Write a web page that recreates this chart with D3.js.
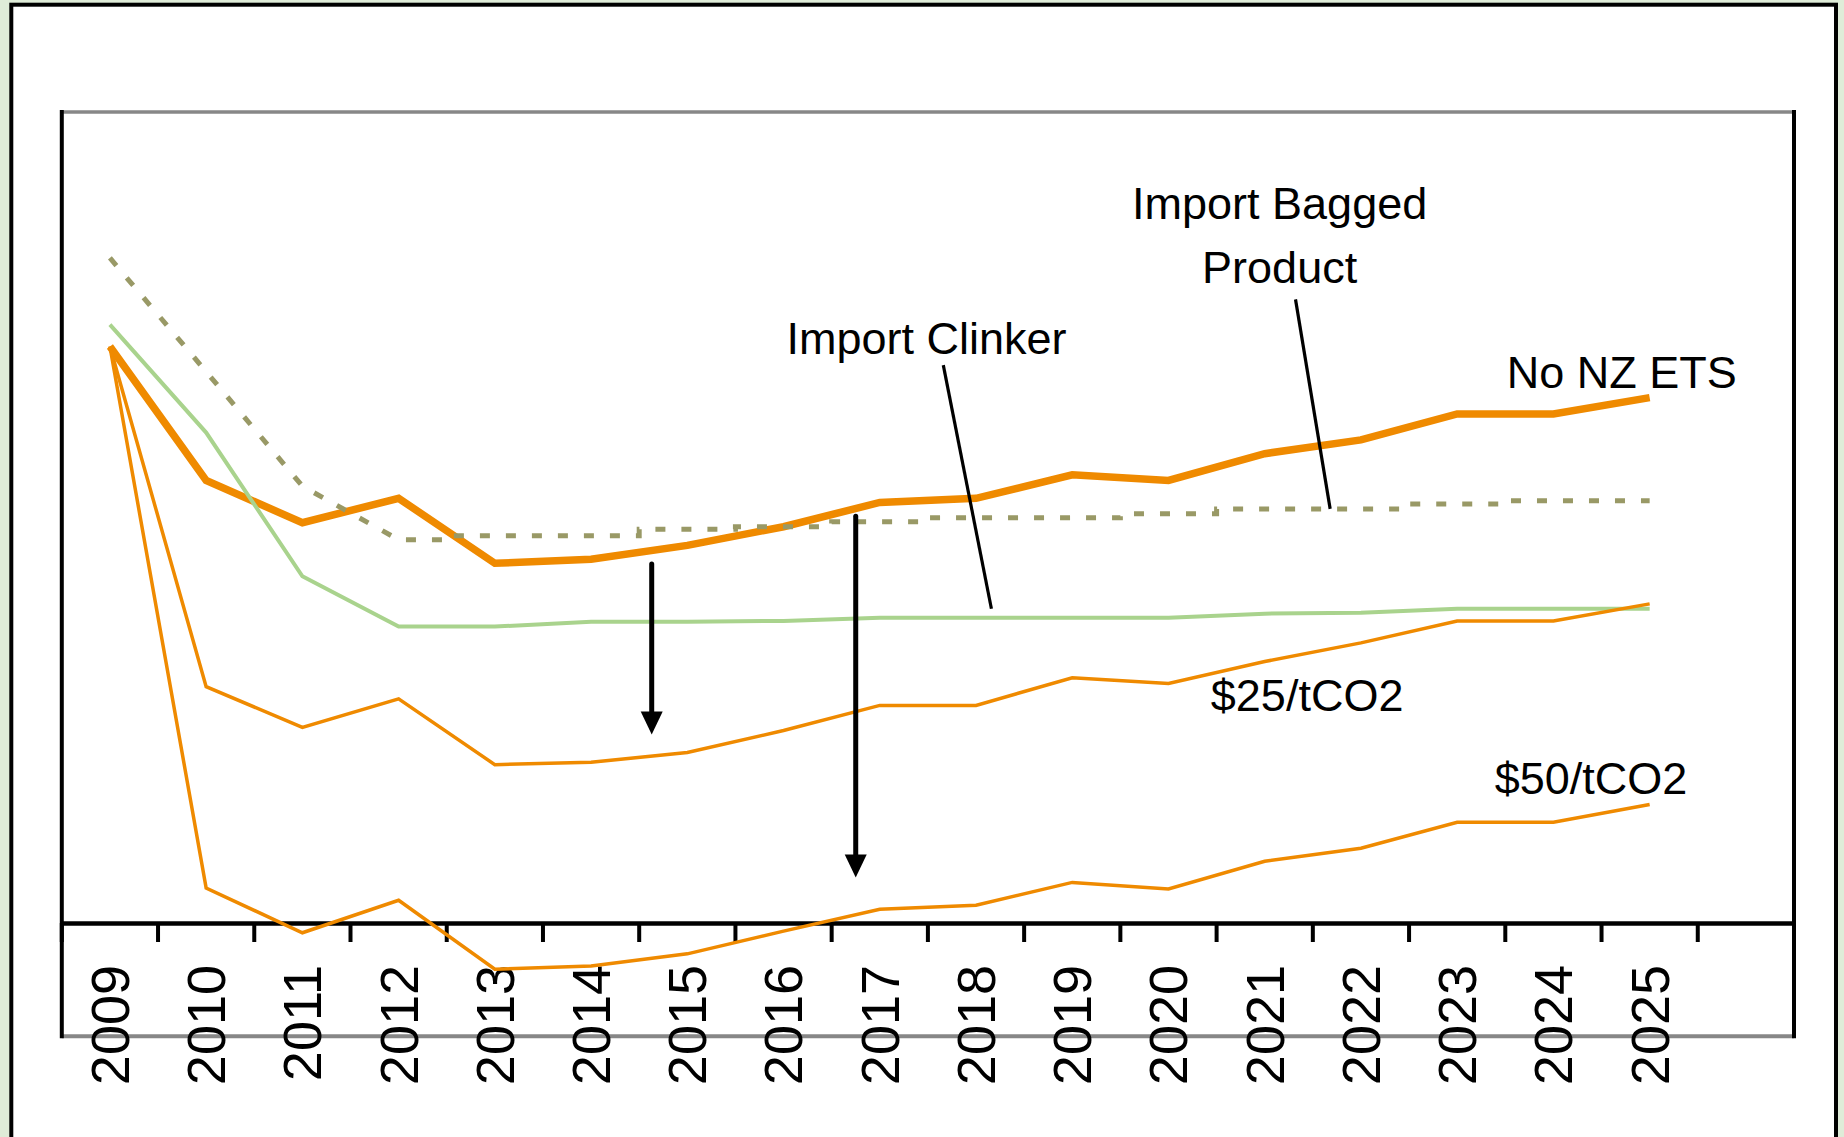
<!DOCTYPE html>
<html>
<head>
<meta charset="utf-8">
<script src="https://cdn.jsdelivr.net/npm/d3@7"></script>
<style>
  body { margin: 0; background: #dfecd8; }
  svg { display: block; font-family: "Liberation Sans", Arial, sans-serif; }
</style>
</head>
<body>
<svg width="1844" height="1137"></svg>
<script>
// values (no y labels in the original, so 0..100 is just chart height)
const years = ["2009","2010","2011","2012","2013","2014","2015","2016","2017",
               "2018","2019","2020","2021","2022","2023","2024","2025"];
const noEts    = [71.0, 54.5, 49.3, 52.3, 44.3, 44.8, 46.5, 48.8, 51.8, 52.3, 55.2, 54.5, 57.8, 59.5, 62.7, 62.7, 64.7];
const clinker  = [73.7, 60.4, 42.7, 36.5, 36.5, 37.1, 37.1, 37.2, 37.6, 37.6, 37.6, 37.6, 38.1, 38.2, 38.7, 38.7, 38.7];
const bagged   = [81.9, 67.9, 53.8, 47.2, 47.7, 47.7, 48.5, 48.8, 49.4, 49.9, 49.9, 50.4, 51.0, 51.0, 51.6, 52.0, 52.0];
const carbon25 = [71.0, 29.1, 24.1, 27.6, 19.5, 19.8, 21.0, 23.7, 26.8, 26.8, 30.2, 29.5, 32.2, 34.5, 37.2, 37.2, 39.3];
const carbon50 = [71.0, 4.3, -1.2, 2.8, -5.7, -5.3, -3.8, -1.0, 1.7, 2.2, 5.0, 4.2, 7.6, 9.2, 12.4, 12.4, 14.6];

const svg = d3.select('svg');
const width = +svg.attr('width');
const height = +svg.attr('height');
const plot = { left: 61.8, right: 1794, top: 112, axis: 923, bottom: 1036.3 };

const orange = '#ef8a00', green = '#a9d38d', olive = '#999966';

// one empty category at the end, like the original sheet
const x = d3.scaleBand().domain(years.concat([""])).range([plot.left, plot.right]);
const y = d3.scaleLinear().domain([0, 100]).range([plot.axis, 111]);
const xAt = t => x(years[0]) + x.bandwidth() / 2 + (t - 2009) * x.step();

// outer frame
svg.append('rect').attr('width', width).attr('height', height).attr('fill', '#dfecd8');
svg.append('rect')
  .attr('x', 11.3).attr('y', 4.7)
  .attr('width', 1824.7).attr('height', height + 40)
  .attr('fill', '#fff').attr('stroke', '#000').attr('stroke-width', 4);

// plot area border: grey top/bottom, black sides
svg.append('line').attr('x1', plot.left).attr('x2', plot.right).attr('y1', plot.top).attr('y2', plot.top)
  .attr('stroke', '#878787').attr('stroke-width', 3.5);
svg.append('line').attr('x1', plot.left).attr('x2', plot.right).attr('y1', plot.bottom).attr('y2', plot.bottom)
  .attr('stroke', '#878787').attr('stroke-width', 4);
[plot.left, plot.right].forEach(px => {
  svg.append('line').attr('x1', px).attr('x2', px).attr('y1', plot.top - 2).attr('y2', plot.bottom + 2)
    .attr('stroke', '#000').attr('stroke-width', 4);
});

// category axis, ticks between the bands
const xAxis = d3.axisBottom(x).tickSizeInner(19).tickSizeOuter(0);
const gx = svg.append('g')
  .attr('transform', `translate(0,${plot.axis})`)
  .call(xAxis)
  .attr('font-family', null).attr('font-size', null);
gx.select('.domain').attr('stroke', '#000').attr('stroke-width', 4.5);
gx.selectAll('.tick line')
  .attr('x1', -x.bandwidth() / 2).attr('x2', -x.bandwidth() / 2)
  .attr('stroke', '#000').attr('stroke-width', 4);
gx.selectAll('.tick text')
  .attr('x', 0).attr('y', 0).attr('dy', '0.35em')
  .attr('text-anchor', 'end')
  .attr('transform', 'translate(0,42) rotate(-90)')
  .attr('font-size', 54).attr('fill', '#000');

// lines
const line = d3.line()
  .x((d, i) => x(years[i]) + x.bandwidth() / 2)
  .y(d => y(d));

const series = [
  { values: noEts, color: orange, w: 7.5 },
  { values: clinker, color: green, w: 4 },
  { values: bagged, color: olive, w: 5, dash: '10,16' },
  { values: carbon25, color: orange, w: 3.5 },
  { values: carbon50, color: orange, w: 3.5 }
];

// bagged product falls straight to 2012, then moves in small steps at the band edges
const baggedPath = () => {
  const head = line(bagged.slice(0, 4));
  const stepLine = d3.line()
    .x((d, i) => x(years[i + 3]) + x.bandwidth() / 2)
    .y(d => y(d))
    .curve(d3.curveStep);
  return head + stepLine(bagged.slice(3)).replace(/^M/, 'L');
};

svg.append('g').selectAll('path')
  .data(series)
  .enter()
  .append('path')
  .attr('d', d => d.values === bagged ? baggedPath() : line(d.values))
  .attr('fill', 'none')
  .attr('stroke', d => d.color)
  .attr('stroke-width', d => d.w)
  .attr('stroke-dasharray', d => d.dash || null);

// annotations (positions in year / value units)
const leaders = [
  { t0: 2017.66, v0: 68.7, t1: 2018.16, v1: 38.7 },
  { t0: 2021.32, v0: 76.8, t1: 2021.68, v1: 51.0 }
];
svg.append('g').selectAll('line')
  .data(leaders)
  .enter()
  .append('line')
  .attr('x1', d => xAt(d.t0)).attr('y1', d => y(d.v0))
  .attr('x2', d => xAt(d.t1)).attr('y2', d => y(d.v1))
  .attr('stroke', '#000').attr('stroke-width', 3.2);

const arrows = [
  { t: 2014.63, from: 44.2, to: 23.2 },
  { t: 2016.75, from: 50.1, to: 5.6 }
];
const headLen = 23, headHalf = 11;
const arrowG = svg.append('g').selectAll('g')
  .data(arrows)
  .enter()
  .append('g');
arrowG.append('line')
  .attr('x1', d => xAt(d.t)).attr('x2', d => xAt(d.t))
  .attr('y1', d => y(d.from)).attr('y2', d => y(d.to) - headLen + 2)
  .attr('stroke', '#000').attr('stroke-width', 5).attr('stroke-linecap', 'round');
arrowG.append('path')
  .attr('d', d => {
    const ax = xAt(d.t), ay = y(d.to);
    return `M${ax},${ay}L${ax - headHalf},${ay - headLen}L${ax + headHalf},${ay - headLen}Z`;
  })
  .attr('fill', '#000');

const labels = [
  { text: 'Import Clinker', t: 2016.03, v: 70.07, anchor: 'start' },
  { text: 'Import Bagged', t: 2021.155, v: 86.70, anchor: 'middle' },
  { text: 'Product', t: 2021.155, v: 78.82, anchor: 'middle' },
  { text: 'No NZ ETS', t: 2023.515, v: 65.84, anchor: 'start' },
  { text: '$25/tCO2', t: 2020.44, v: 26.11, anchor: 'start' },
  { text: '$50/tCO2', t: 2023.39, v: 15.83, anchor: 'start' }
];
svg.append('g').selectAll('text')
  .data(labels)
  .enter()
  .append('text')
  .attr('x', d => xAt(d.t))
  .attr('y', d => y(d.v))
  .attr('text-anchor', d => d.anchor)
  .attr('font-size', 45)
  .attr('fill', '#000')
  .text(d => d.text);
</script>
</body>
</html>
